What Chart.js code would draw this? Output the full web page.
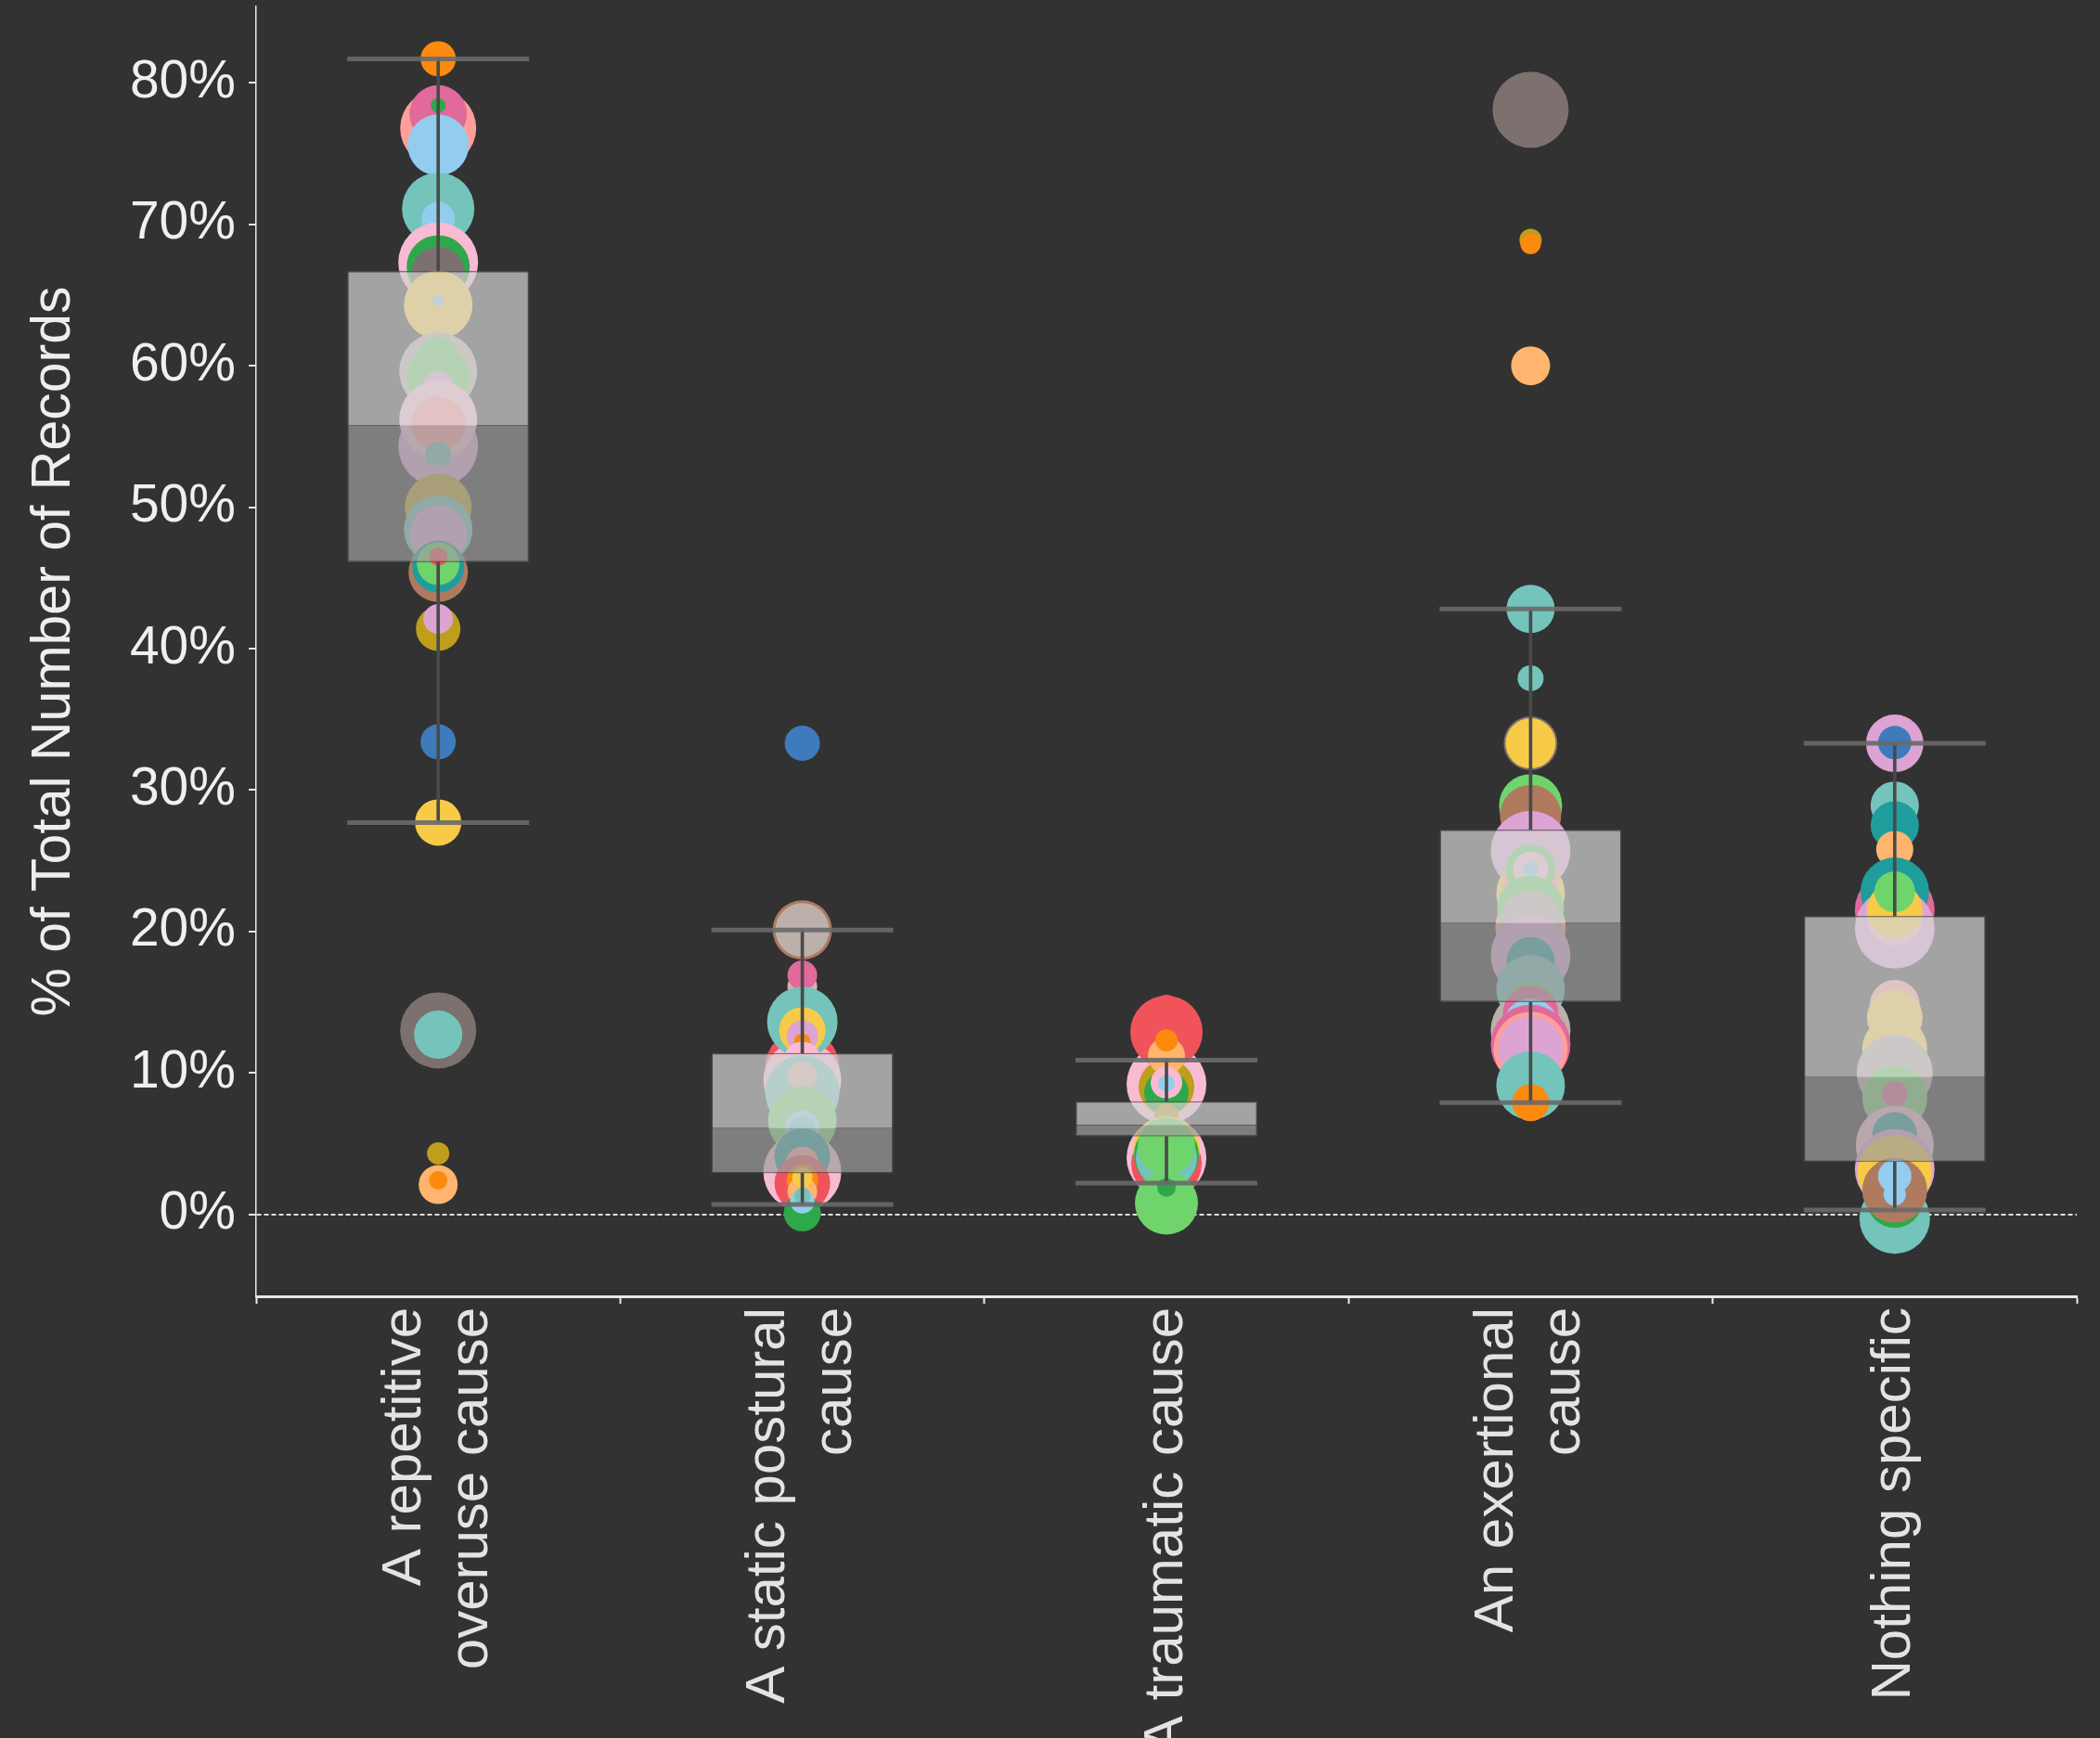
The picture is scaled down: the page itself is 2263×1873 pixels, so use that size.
<!DOCTYPE html>
<html>
<head>
<meta charset="utf-8">
<title>Cause of symptoms</title>
<script src="https://cdn.jsdelivr.net/npm/chart.js@4.4.1/dist/chart.umd.min.js"></script>
<style>
  html, body { margin: 0; padding: 0; background: #323232; }
  #wrap { width: 2263px; height: 1873px; }
</style>
</head>
<body>
<div id="wrap"><canvas id="chart"></canvas></div>
<script>
// categories and axis ticks
const categories = ['A repetitive overuse cause', 'A static postural cause', 'A traumatic cause', 'An exertional cause', 'Nothing specific'];
const tickLabels = [['A repetitive', 'overuse cause'], ['A static postural', 'cause'], ['', 'A traumatic cause'], ['An exertional', 'cause'], ['', 'Nothing specific']];
const yTicks = [0, 10, 20, 30, 40, 50, 60, 70, 80];

// box plot summary per category (% of total number of records)
const whiskerLow = [27.7, 0.7, 2.2, 7.9, 0.3];
const q1 = [46.1, 2.9, 5.5, 15.0, 3.7];
const median = [55.8, 6.1, 6.3, 20.6, 9.7];
const q3 = [66.7, 11.4, 8.0, 27.2, 21.1];
const whiskerHigh = [81.7, 20.1, 10.9, 42.8, 33.3];

// individual marks: [value %, size, colour key], back to front
const overuseBubbles = [
  [76.8, 41, 'salmon'], [77.8, 31, 'pink'], [75.6, 33, 'lightblue'], [78.4, 8, 'green'],
  [71.1, 39, 'lightteal'], [70.4, 18, 'lightblue'],
  [67.3, 43, 'lightpink'], [67.0, 34, 'green'], [66.5, 29, 'gray'],
  [64.3, 37, 'yellow'], [64.6, 6, 'lightblue'],
  [59.6, 42, 'lightgray'], [59.2, 34, 'lightgreen'], [60.6, 22, 'lightgreen'], [58.6, 16, 'lightpurple'],
  [54.3, 43, 'lightpurple'], [56.2, 42, 'lightpink'], [55.9, 29, 'salmon'],
  [53.7, 14, 'lightteal'], [51.9, 17, 'lightpurple'],
  [50.0, 36, 'olive'],
  [48.4, 37, 'lightteal'], [48.1, 31, 'lightpurple'],
  [45.4, 32, 'brown'], [45.8, 28, 'teal'], [46.0, 23, 'lightgreen'], [46.5, 10, 'red'],
  [41.4, 24, 'olive'], [42.1, 16, 'lightpurple'],
  [33.4, 19, 'blue'],
  [27.7, 25, 'yellow'],
  [13.0, 41, 'gray'], [12.7, 26, 'lightteal'],
  [4.3, 12, 'olive'],
  [2.1, 21, 'lightorange'], [2.4, 10, 'orange'],
  [81.7, 19, 'orange']
];
const posturalBubbles = [
  [33.3, 19, 'blue'],
  [20.1, 32, 'brown'], [20.1, 29, 'lightgray'],
  [16.1, 16, 'lightbrown'], [16.9, 16, 'pink'],
  [10.4, 40, 'red'], [9.5, 42, 'lightpink'], [13.6, 38, 'lightteal'], [13.0, 25, 'yellow'], [12.6, 17, 'lightpurple'], [12.2, 9, 'orange'],
  [10.9, 20, 'lightpink'],
  [8.6, 40, 'lightteal'], [9.8, 16, 'lightbrown'],
  [6.6, 37, 'lightgreen'], [6.1, 19, 'lightblue'], [6.0, 14, 'lightteal'],
  [3.0, 42, 'lightpink'], [4.1, 30, 'teal'], [3.6, 18, 'salmon'],
  [2.2, 30, 'red'], [2.4, 17, 'orange'], [1.6, 16, 'lightorange'], [2.6, 11, 'yellow'],
  [0.1, 20, 'green'], [0.9, 13, 'lightblue'], [1.3, 9, 'lightteal']
];
const traumaticBubbles = [
  [9.2, 43, 'lightpink'], [9.0, 30, 'olive'], [8.6, 24, 'green'],
  [12.9, 39, 'red'], [14.8, 11, 'red'], [11.2, 20, 'lightorange'], [12.3, 12, 'orange'],
  [9.3, 17, 'lightpink'], [9.25, 9, 'lightblue'],
  [7.0, 13, 'olive'],
  [4.0, 43, 'lightpink'], [3.6, 38, 'red'], [4.6, 36, 'yellow'], [4.2, 35, 'green'], [4.0, 33, 'lightteal'], [4.8, 31, 'lightgreen'],
  [0.8, 34, 'lightgreen'], [1.9, 10, 'green']
];
const exertionalBubbles = [
  [78.1, 41, 'gray'],
  [68.9, 12, 'olive'], [68.6, 11, 'orange'],
  [60.0, 21, 'lightorange'],
  [42.8, 26, 'lightteal'],
  [37.9, 14, 'lightteal'],
  [33.3, 29, 'gray'], [33.3, 27, 'yellow'],
  [28.9, 34, 'lightgreen'], [28.2, 33, 'brown'], [27.4, 17, 'lightpurple'],
  [25.7, 43, 'lightpurple'], [22.7, 37, 'yellow'], [23.3, 30, 'salmon'], [24.4, 27, 'lightgreen'], [24.4, 19, 'lightpink'], [24.4, 8, 'lightblue'],
  [20.3, 38, 'salmon'], [21.6, 36, 'lightgreen'], [20.7, 33, 'lightgray'],
  [18.3, 43, 'lightpurple'], [17.9, 26, 'teal'], [17.2, 18, 'pink'],
  [15.9, 37, 'lightteal'], [15.3, 17, 'gray'],
  [13.0, 43, 'lightgray'], [14.6, 28, 'lightgreen'], [14.2, 30, 'pink'], [13.3, 30, 'lightblue'], [13.85, 14, 'green'],
  [12.0, 43, 'pink'], [11.7, 40, 'salmon'], [11.7, 35, 'lightpurple'],
  [9.1, 37, 'lightteal'], [7.9, 20, 'orange']
];
const nothingBubbles = [
  [33.3, 31, 'lightpurple'], [33.35, 18, 'blue'],
  [28.9, 26, 'lightteal'], [27.5, 26, 'teal'], [25.8, 20, 'lightorange'],
  [21.5, 43, 'pink'], [22.8, 37, 'teal'], [20.2, 43, 'lightpurple'], [21.0, 30, 'lightpink'], [21.5, 30, 'yellow'], [22.8, 22, 'lightgreen'],
  [14.8, 27, 'salmon'], [13.9, 30, 'yellow'], [12.8, 14, 'salmon'], [11.7, 35, 'yellow'], [11.2, 14, 'lightpink'],
  [10.0, 41, 'lightgray'], [8.2, 35, 'lightgreen'], [8.5, 14, 'pink'],
  [4.9, 42, 'lightpink'], [5.65, 24, 'teal'], [5.0, 11, 'orange'],
  [3.2, 43, 'lightpurple'], [3.0, 40, 'yellow'],
  [-0.3, 38, 'lightteal'], [1.0, 30, 'green'], [1.7, 35, 'brown'], [2.7, 18, 'lightblue'], [1.4, 12, 'lightblue']
];
const bubbleSets = [overuseBubbles, posturalBubbles, traumaticBubbles, exertionalBubbles, nothingBubbles];

const palette = {
  blue: '#3d7bbd', lightblue: '#92cdef', orange: '#fb8a0e', lightorange: '#ffb56e',
  green: '#2ea84a', lightgreen: '#6fd46b', olive: '#bf9e1c', yellow: '#f7cb47',
  teal: '#1f9d9d', lightteal: '#74c4bc', red: '#f0545a', salmon: '#ff9e9b',
  gray: '#7d7170', lightgray: '#bcb0ab', pink: '#e2699c', lightpink: '#f9bbd4',
  lightpurple: '#dda4d3', brown: '#b07a5f', lightbrown: '#d8b3a3'
};

Chart.defaults.font.family = "'Liberation Sans', Arial, Helvetica, sans-serif";

const datasets = [];

// whisker caps on top
datasets.push({
  type: 'line', data: whiskerHigh, showLine: false, order: 0,
  pointStyle: 'line', pointRadius: 98, pointBorderWidth: 5, pointBorderColor: 'rgba(105,105,105,0.9)'
});
datasets.push({
  type: 'line', data: whiskerLow, showLine: false, order: 0,
  pointStyle: 'line', pointRadius: 98, pointBorderWidth: 5, pointBorderColor: 'rgba(105,105,105,0.9)'
});

// boxes
datasets.push({
  type: 'bar', data: categories.map((c, i) => [median[i], q3[i]]), order: 1,
  backgroundColor: 'rgba(211,211,211,0.7)', borderColor: 'rgba(80,80,80,0.7)', borderWidth: 1.5, borderSkipped: 'bottom',
  grouped: false, barPercentage: 0.5, categoryPercentage: 1
});
datasets.push({
  type: 'bar', data: categories.map((c, i) => [q1[i], median[i]]), order: 1,
  backgroundColor: 'rgba(158,158,158,0.7)', borderColor: 'rgba(80,80,80,0.7)', borderWidth: 1.5, borderSkipped: 'top',
  grouped: false, barPercentage: 0.5, categoryPercentage: 1
});

// whisker stems
datasets.push({
  type: 'bar', data: categories.map((c, i) => [q3[i], whiskerHigh[i]]), order: 2,
  backgroundColor: '#4a4a4a', barThickness: 3, grouped: false
});
datasets.push({
  type: 'bar', data: categories.map((c, i) => [whiskerLow[i], q1[i]]), order: 2,
  backgroundColor: '#4a4a4a', barThickness: 3, grouped: false
});

// the individual circles underneath everything
bubbleSets.forEach((set, ci) => {
  datasets.push({
    type: 'bubble', order: 3, borderWidth: 0,
    data: set.map(b => ({ x: categories[ci], y: b[0], r: b[1] })),
    backgroundColor: set.map(b => palette[b[2]])
  });
});

const singleLine = i => i !== undefined && tickLabels[i] && tickLabels[i][0] === '';

new Chart(document.getElementById('chart'), {
  type: 'bar',
  data: { labels: categories, datasets: datasets },
  options: {
    responsive: true,
    maintainAspectRatio: false,
    devicePixelRatio: 1,
    animation: false,
    events: [],
    layout: { autoPadding: false, padding: { left: 10, top: 7, right: 25, bottom: 0 } },
    plugins: { legend: { display: false }, tooltip: { enabled: false } },
    scales: {
      x: {
        type: 'category',
        offset: true,
        grid: { offset: true, drawOnChartArea: false, drawTicks: true, tickLength: 8, tickColor: '#e8e8e8', tickWidth: 2 },
        border: { color: '#e8e8e8', width: 3 },
        ticks: {
          autoSkip: false, minRotation: 90, maxRotation: 90, padding: 4,
          labelOffset: -36,
          color: '#e3e3e3',
          // single-line labels get half line height so they stay centred on the tick
          font: ctx => ({ size: 60, lineHeight: singleLine(ctx.index) ? 0.6 : 1.2 }),
          callback: (value, index) => tickLabels[index]
        },
        afterFit: s => { s.height = 476; s.paddingLeft = 0; s.paddingRight = 0; }
      },
      y: {
        min: -5.8, max: 85.4,
        grid: {
          color: c => (c.tick && c.tick.value === 0) ? 'rgba(255,255,255,0.85)' : 'rgba(0,0,0,0)',
          lineWidth: 2, drawTicks: true, tickLength: 8, tickColor: '#e8e8e8', tickWidth: 2
        },
        border: { color: '#e8e8e8', width: 1.5, dash: [5, 3] },
        ticks: {
          padding: 14, color: '#f0f0f0', font: { size: 57 },
          callback: v => v + '%'
        },
        afterBuildTicks: s => { s.ticks = yTicks.map(v => ({ value: v })); },
        title: {
          display: true, text: '% of Total Number of Records', color: '#eeeeee',
          font: { size: 59 }, padding: { top: 13, bottom: 0 }
        },
        afterFit: s => { s.width = 266; s.paddingTop = 0; s.paddingBottom = 0; }
      }
    }
  }
});
</script>
</body>
</html>
